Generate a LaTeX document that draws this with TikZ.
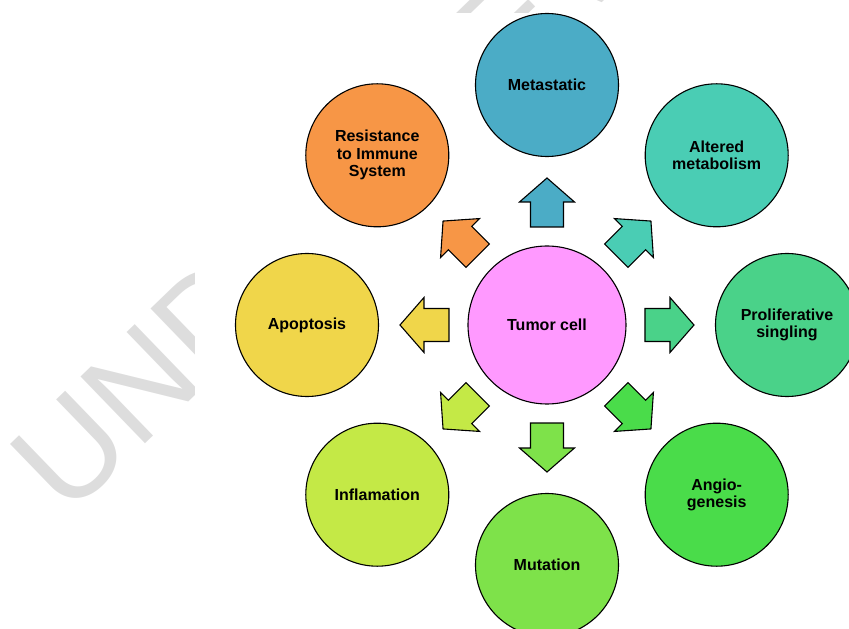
\documentclass[tikz,border=0pt]{standalone}
\usepackage{fontspec}
\setmainfont{Liberation Sans}
\usepackage{tikz}

\definecolor{cTumor}{RGB}{255,153,255}
\definecolor{cMeta}{RGB}{75,172,198}
\definecolor{cAlt}{RGB}{74,205,180}
\definecolor{cProlif}{RGB}{74,210,137}
\definecolor{cAngio}{RGB}{74,220,74}
\definecolor{cMut}{RGB}{126,226,74}
\definecolor{cInfl}{RGB}{196,233,70}
\definecolor{cApop}{RGB}{240,214,74}
\definecolor{cResist}{RGB}{247,150,70}
\definecolor{cMark}{RGB}{221,221,221}

\begin{document}
\begin{tikzpicture}[x=1pt,y=1pt,
    bubble/.style={circle,draw,line width=1.1pt,minimum size=143pt,inner sep=0pt,
      align=center,font=\fontsize{16}{17.5}\selectfont\bfseries},
    blockarr/.style={draw,line width=1.1pt,line join=miter}]
        \useasboundingbox (-547,-304) rectangle (302,325);
        \node[text=cMark, rotate=44, anchor=base west, inner sep=0pt,
          font=\fontsize{135}{135}\selectfont] (mark) at (-480,-194) {UNDER REVIEW};
        \fill[white] (-352,-304) rectangle (302,312);

        \node[bubble, minimum size=158pt, fill=cTumor] (tumor) at (0,0) {Tumor cell};
        \node[bubble, fill=cMeta] (meta) at (90:240) {Metastatic};
        \node[bubble, fill=cAlt] (alt) at (45:240) {Altered\\metabolism};
        \node[bubble, fill=cProlif] (prolif) at (0:240) {Proliferative\\singling};
        \node[bubble, fill=cAngio] (angio) at (-45:240) {Angio-\\genesis};
        \node[bubble, fill=cMut] (mut) at (-90:240) {Mutation};
        \node[bubble, fill=cInfl] (infl) at (-135:240) {Inflamation};
        \node[bubble, fill=cApop] (apop) at (180:240) {Apoptosis};
        \node[bubble, fill=cResist] (resist) at (135:240) {Resistance\\to Immune\\System};

        \foreach \a/\c in {90/cMeta,45/cAlt,0/cProlif,-45/cAngio,-90/cMut,-135/cInfl,180/cApop,135/cResist}
          \draw[blockarr, fill=\c, rotate=\a] (98,-16.5) -- (123,-16.5) -- (123,-27.5) -- (147,0)
            -- (123,27.5) -- (123,16.5) -- (98,16.5) -- cycle;
      \end{tikzpicture}
\end{document}
